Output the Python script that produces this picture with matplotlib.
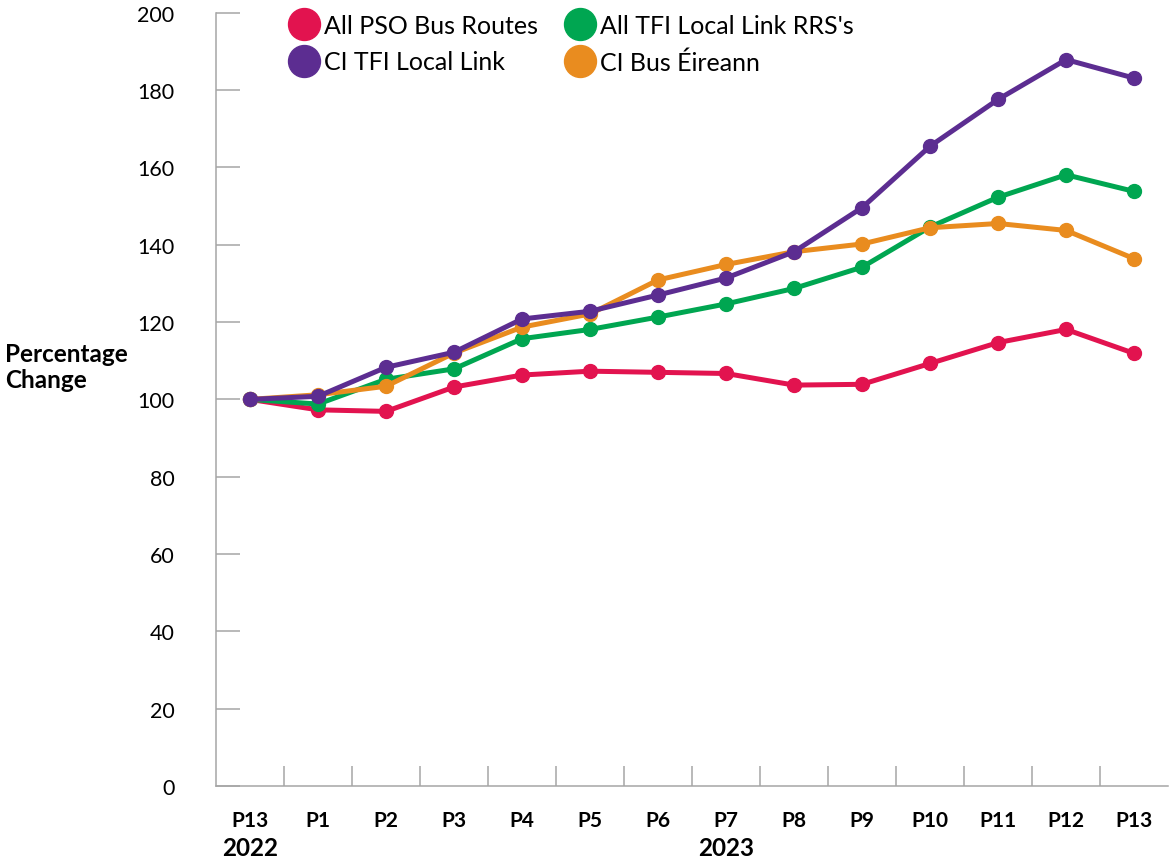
import matplotlib
matplotlib.use("Agg")
import matplotlib.pyplot as plt
from matplotlib.lines import Line2D
from matplotlib.transforms import blended_transform_factory

plt.rcParams['font.family'] = ['Lato', 'DejaVu Sans']

periods = ["P13", "P1", "P2", "P3", "P4", "P5", "P6", "P7", "P8", "P9", "P10", "P11", "P12", "P13"]
years = {0: "2022", 7: "2023"}

all_pso = [100, 97.3, 96.9, 103.2, 106.3, 107.3, 107.0, 106.7, 103.7, 103.9, 109.3, 114.7, 118.1, 111.9]
all_tfi_rrs = [100, 98.8, 105.2, 107.9, 115.7, 118.1, 121.3, 124.7, 128.7, 134.2, 144.6, 152.3, 158.1, 153.8]
ci_tfi_ll = [100, 100.8, 108.3, 112.2, 120.8, 122.8, 127.0, 131.4, 138.2, 149.6, 165.5, 177.6, 187.9, 183.1]
ci_bus_eireann = [100, 101.2, 103.4, 112.0, 118.7, 122.1, 130.9, 134.9, 138.2, 140.2, 144.4, 145.5, 143.7, 136.4]

series = [
    ("All PSO Bus Routes", all_pso, "#E2134F"),
    ("All TFI Local Link RRS's", all_tfi_rrs, "#00A651"),
    ("CI Bus Éireann", ci_bus_eireann, "#E98C1F"),
    ("CI TFI Local Link", ci_tfi_ll, "#5C2D91"),
]

fig = plt.figure(figsize=(11.74, 8.62), dpi=100)
ax = fig.add_axes([0.184, 0.087, 0.811, 0.897])

x = list(range(len(periods)))
for i, (name, vals, col) in enumerate(series):
    ax.plot(x, vals, color=col, lw=3.6, marker="o", ms=10, zorder=3 + i,
            solid_joinstyle="round")

ax.set_xlim(-0.5, len(periods) - 0.5)
ax.set_ylim(0, 200)
ax.set_yticks(range(0, 201, 20))

ax.set_xticks(x)
ax.set_xticklabels(periods, fontweight="bold", fontsize=15)
ax.set_xticks([k + 0.5 for k in range(len(periods) - 1)], minor=True)
ax.tick_params(axis="x", which="major", length=0, pad=17)
ax.tick_params(axis="x", which="minor", direction="in", length=14.5, width=1.1, color="#a6a6a6")
ax.tick_params(axis="y", direction="in", length=17, width=1.1, color="#a6a6a6",
               labelsize=15.5, pad=30)

for s in ["top", "right"]:
    ax.spines[s].set_visible(False)
for s in ["left", "bottom"]:
    ax.spines[s].set_color("#a6a6a6")
    ax.spines[s].set_linewidth(1.1)

tr = blended_transform_factory(ax.transData, fig.transFigure)
for k, yr in years.items():
    ax.text(k, 0.016, yr, transform=tr, ha="center", va="center",
            fontweight="bold", fontsize=17.5)

fig.text(0.004, 0.574, "Percentage\nChange", ha="left", va="center",
         fontweight="bold", fontsize=17.5, linespacing=1.15)

order = [0, 3, 1, 2]
handles = [Line2D([], [], ls="none", marker="o", ms=23, color=series[i][2]) for i in order]
labels = [series[i][0] for i in order]
ax.legend(handles, labels, ncol=2, loc="upper left", bbox_to_anchor=(0.053, 1.028),
          frameon=False, fontsize=18, handletextpad=0.2, columnspacing=1.1,
          labelspacing=0.55, handlelength=1.2)

fig.savefig("out.png", dpi=100)
